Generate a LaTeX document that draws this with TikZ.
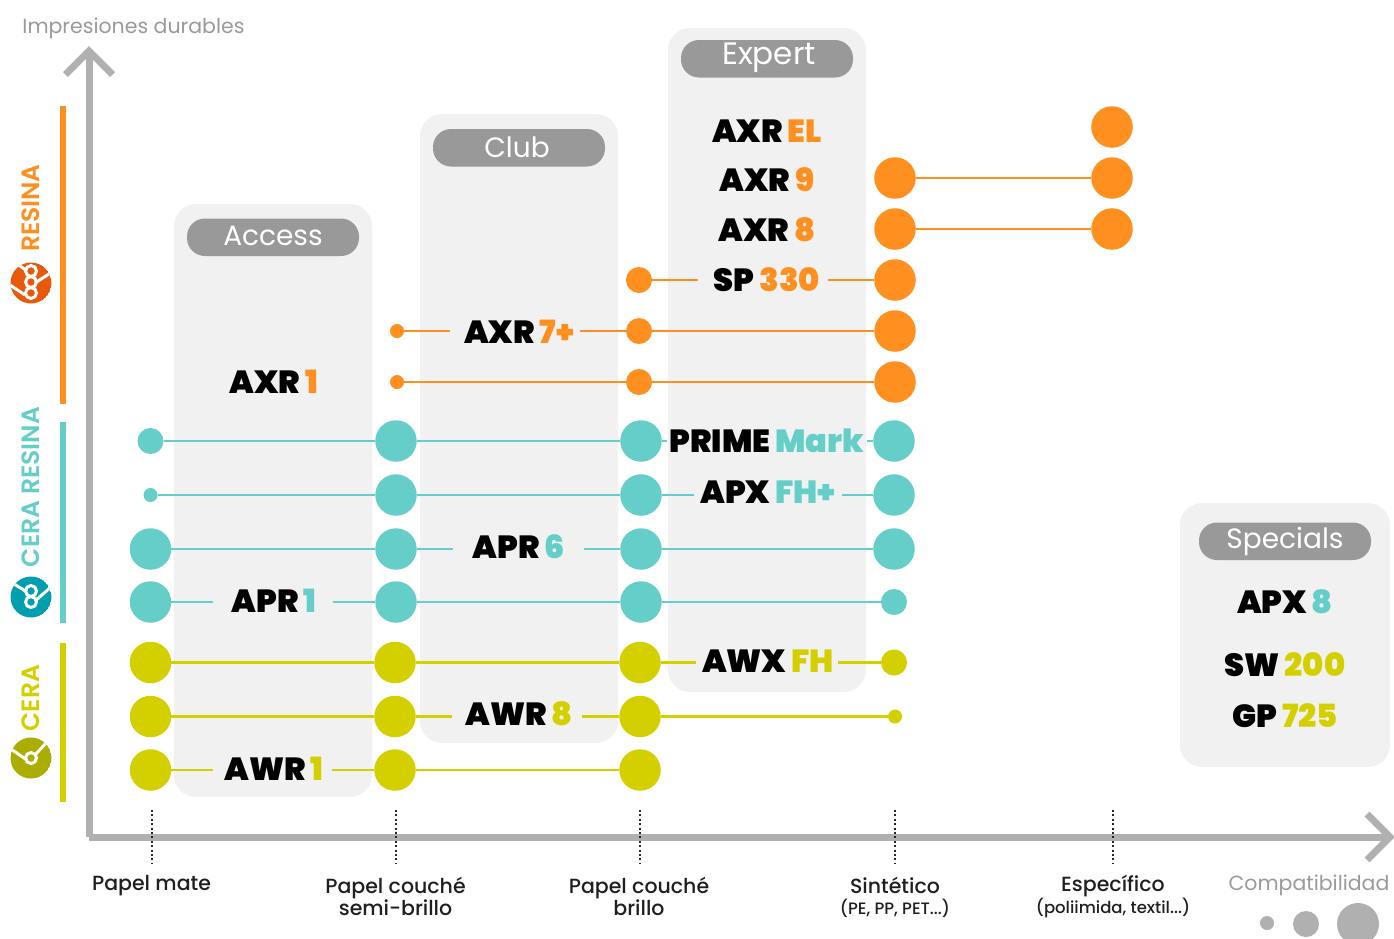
\documentclass[tikz,border=0pt]{standalone}
\usepackage{fontspec}
\setmainfont{Poppins}
\newfontfamily\hvfont{Poppins Black}
\newfontfamily\sbfont{Poppins SemiBold}
\newfontfamily\mdfont{Poppins Medium}
\definecolor{cO}{HTML}{FF8F1F}
\definecolor{cT}{HTML}{66CEC9}
\definecolor{cY}{HTML}{D4D000}
\definecolor{axg}{HTML}{B0B0B0}
\definecolor{pan}{HTML}{F1F1F1}
\definecolor{pil}{HTML}{999999}
\definecolor{txg}{HTML}{9A9A9A}
\definecolor{lO}{HTML}{E8590C}
\definecolor{lT}{HTML}{009FB0}
\definecolor{lY}{HTML}{ABAD00}
\tikzset{
 x=1pt,y=-1pt,
 panel/.style={fill=pan,rounded corners=22pt,draw=none},
 pillbox/.style={fill=pil,rounded corners=18pt,draw=none},
 pilltxt/.style={text=white,font=\fontsize{28}{28}\selectfont,inner sep=0pt},
 dotbig/.style={circle,minimum size=41.5pt,inner sep=0pt,draw=none},
 dotmid/.style={circle,minimum size=26pt,inner sep=0pt,draw=none},
 dotsml/.style={circle,minimum size=14pt,inner sep=0pt,draw=none},
 prodlab/.style={font=\hvfont\fontsize{32}{32}\selectfont,inner sep=0pt,anchor=center},
 lnk/.style={line width=2.8pt},
 axisline/.style={draw=axg,line width=7pt},
 sidebar/.style={line width=6pt},
 ticks/.style={line width=2pt,black!85,dash pattern=on 2pt off 2.4pt},
 captxt/.style={font=\mdfont\fontsize{20.5}{21}\selectfont,inner sep=0pt,align=center,text=black!88},
 subcap/.style={font=\mdfont\fontsize{16.5}{17}\selectfont,inner sep=0pt,text=black!88},
 greytxt/.style={font=\fontsize{20.5}{23}\selectfont,inner sep=0pt,text=txg},
 sidetxt/.style={font=\sbfont\fontsize{25}{25}\selectfont,inner sep=0pt,rotate=90},
 logoln/.style={white,line width=3pt},
 ring/.style={circle,draw=white,line width=3pt,inner sep=0pt,minimum size=11pt},
}
\newcommand{\dotn}[5]{\node[#1,fill=#2] (#3) at (#4,#5) {};}
\newcommand{\lbl}[6]{\node[prodlab] (#1) at (#2,#3) {#4\hspace{5pt}\textcolor{#5}{#6}};}
\begin{document}
\begin{tikzpicture}
\useasboundingbox (0,0) rectangle (1394,938);
% panels
\fill[panel] (174,204) rectangle (372,797);
\fill[panel] (420,114) rectangle (618,743);
\fill[panel] (668,28) rectangle (866,692);
\fill[panel] (1180,503) rectangle (1390,767);
\fill[pillbox] (187,218.5) rectangle (359,256);
\fill[pillbox] (433,129) rectangle (605,166.5);
\fill[pillbox] (681,40) rectangle (853,77.5);
\fill[pillbox] (1199,522.5) rectangle (1371,560);
\node[pilltxt] (pa) at (273,236) {Access};
\node[pilltxt] (pc) at (517,147.5) {Club};
\node[pilltxt,font=\fontsize{31}{31}\selectfont] (pe) at (769,58) {Expert};
\node[pilltxt] (ps) at (1285,541) {Specials};
% axes
\coordinate (org) at (89,837);
\coordinate (ytop) at (89,51);
\coordinate (xend) at (1390,837);
\draw[axisline] (org) -- (ytop);
\draw[axisline] (org) -- (xend);
\draw[axisline,miter limit=10] (65.5,74.5) -- (ytop) -- (112.5,74.5);
\draw[axisline,miter limit=10] (1367,814) -- (xend) -- (1367,860);
% side bars
\draw[sidebar,cO] (63,106) -- (63,404);
\draw[sidebar,cT] (63,422) -- (63,623);
\draw[sidebar,cY] (63,643) -- (63,802);
\node[sidetxt,text=cO] (tr) at (31,208) {RESINA};
\node[sidetxt,text=cT] (tcr) at (31,487) {CERA RESINA};
\node[sidetxt,text=cY] (tc) at (31,698) {CERA};
% logos
\begin{scope}
\clip (31,283) circle (20.5);
\fill[lO] (31,283) circle (20.5);
\draw[logoln] (10,285) -- (25,295);
\draw[logoln] (16,263) -- (27,271);
\draw[logoln] (52,272) -- (35,283);
\node[ring] at (31,271) {};
\node[ring] at (31,282) {};
\node[ring] at (31,293) {};
\end{scope}
\begin{scope}
\clip (31,597) circle (20.5);
\fill[lT] (31,597) circle (20.5);
\draw[logoln] (14,584) -- (27,592);
\draw[logoln] (51,587) -- (35,601);
\node[ring] at (31,591) {};
\node[ring] at (31,602) {};
\end{scope}
\begin{scope}
\clip (31,758) circle (20.5);
\fill[lY] (31,758) circle (20.5);
\draw[logoln] (11,749) -- (27,760);
\draw[logoln] (46,743) -- (35,755);
\node[ring] at (31,758) {};
\end{scope}
% labels
\lbl{axrel}{767}{131}{AXR}{cO}{EL}
\lbl{axrn}{767}{180}{AXR}{cO}{9}
\lbl{axre}{767}{230}{AXR}{cO}{8}
\lbl{sp}{767}{280}{SP}{cO}{330}
\lbl{axrs}{519}{332}{AXR}{cO}{7+}
\lbl{axro}{274}{382}{AXR}{cO}{1}
\lbl{prime}{767}{441}{PRIME}{cT}{Mark}
\lbl{apxf}{768}{492}{APX}{cT}{FH+}
\lbl{aprs}{519}{547}{APR}{cT}{6}
\lbl{apro}{274}{601}{APR}{cT}{1}
\lbl{awxf}{768}{661}{AWX}{cY}{FH}
\lbl{awre}{519}{714}{AWR}{cY}{8}
\lbl{awro}{274}{769}{AWR}{cY}{1}
\lbl{apxe}{1285}{602}{APX}{cT}{8}
\lbl{sw}{1285}{665}{SW}{cY}{200}
\lbl{gp}{1285}{716}{GP}{cY}{725}
% orange dots
\dotn{dotbig}{cO}{o1e}{1112}{127}
\dotn{dotbig}{cO}{o2d}{895}{178}
\dotn{dotbig}{cO}{o2e}{1112}{178}
\dotn{dotbig}{cO}{o3d}{895}{229}
\dotn{dotbig}{cO}{o3e}{1112}{229}
\dotn{dotmid}{cO}{o4c}{639}{280}
\dotn{dotbig}{cO}{o4d}{895}{280}
\dotn{dotsml}{cO}{o5b}{397}{331}
\dotn{dotmid}{cO}{o5c}{639}{331}
\dotn{dotbig}{cO}{o5d}{895}{331}
\dotn{dotsml}{cO}{o6b}{397}{382}
\dotn{dotmid}{cO}{o6c}{639}{382}
\dotn{dotbig}{cO}{o6d}{895}{382}
% teal dots
\dotn{dotmid}{cT}{t1a}{150.5}{441}
\dotn{dotbig}{cT}{t1b}{396}{441}
\dotn{dotbig}{cT}{t1c}{641}{441}
\dotn{dotbig}{cT}{t1d}{894}{441}
\dotn{dotsml}{cT}{t2a}{150.5}{495}
\dotn{dotbig}{cT}{t2b}{396}{495}
\dotn{dotbig}{cT}{t2c}{641}{495}
\dotn{dotbig}{cT}{t2d}{894}{495}
\dotn{dotbig}{cT}{t3a}{150.5}{549}
\dotn{dotbig}{cT}{t3b}{396}{549}
\dotn{dotbig}{cT}{t3c}{641}{549}
\dotn{dotbig}{cT}{t3d}{894}{549}
\dotn{dotbig}{cT}{t4a}{150.5}{602}
\dotn{dotbig}{cT}{t4b}{396}{602}
\dotn{dotbig}{cT}{t4c}{641}{602}
\dotn{dotmid}{cT}{t4d}{894}{602}
% yellow dots
\dotn{dotbig}{cY}{y1a}{150.5}{662.5}
\dotn{dotbig}{cY}{y1b}{395}{662.5}
\dotn{dotbig}{cY}{y1c}{640}{662.5}
\dotn{dotmid}{cY}{y1d}{894}{662.5}
\dotn{dotbig}{cY}{y2a}{150.5}{716.5}
\dotn{dotbig}{cY}{y2b}{395}{716.5}
\dotn{dotbig}{cY}{y2c}{640}{716.5}
\dotn{dotsml}{cY}{y2d}{895}{716.5}
\dotn{dotbig}{cY}{y3a}{150.5}{770}
\dotn{dotbig}{cY}{y3b}{395}{770}
\dotn{dotbig}{cY}{y3c}{640}{770}
% free ends where a line stops short of its label
\coordinate (a4) at (698,280);\coordinate (b4) at (828,280);
\coordinate (a5) at (450,331);\coordinate (b5) at (580,331);
\coordinate (a7) at (667,441);\coordinate (b7) at (867,441);
\coordinate (a8) at (694,495);\coordinate (b8) at (842,495);
\coordinate (a9) at (453,549);\coordinate (b9) at (584,549);
\coordinate (a10) at (213,602);\coordinate (b10) at (333,602);
\coordinate (a11) at (696,662.5);\coordinate (b11) at (838,662.5);
\coordinate (a12) at (452,716.5);\coordinate (b12) at (582,716.5);
\coordinate (a13) at (213,770);\coordinate (b13) at (332,770);
% connectors
\draw[lnk,cO] (o2d) -- (o2e);
\draw[lnk,cO] (o3d) -- (o3e);
\draw[lnk,cO] (o4c) -- (a4);
\draw[lnk,cO] (b4) -- (o4d);
\draw[lnk,cO] (o5b) -- (a5);
\draw[lnk,cO] (b5) -- (o5c);
\draw[lnk,cO] (o5c) -- (o5d);
\draw[lnk,cO] (o6b) -- (o6c);
\draw[lnk,cO] (o6c) -- (o6d);
\draw[lnk,cT] (t1a) -- (t1b);
\draw[lnk,cT] (t1b) -- (t1c);
\draw[lnk,cT] (t1c) -- (a7);
\draw[lnk,cT] (b7) -- (t1d);
\draw[lnk,cT] (t2a) -- (t2b);
\draw[lnk,cT] (t2b) -- (t2c);
\draw[lnk,cT] (t2c) -- (a8);
\draw[lnk,cT] (b8) -- (t2d);
\draw[lnk,cT] (t3a) -- (t3b);
\draw[lnk,cT] (t3b) -- (a9);
\draw[lnk,cT] (b9) -- (t3c);
\draw[lnk,cT] (t3c) -- (t3d);
\draw[lnk,cT] (t4a) -- (a10);
\draw[lnk,cT] (b10) -- (t4b);
\draw[lnk,cT] (t4b) -- (t4c);
\draw[lnk,cT] (t4c) -- (t4d);
\draw[lnk,cY] (y1a) -- (y1b);
\draw[lnk,cY] (y1b) -- (y1c);
\draw[lnk,cY] (y1c) -- (a11);
\draw[lnk,cY] (b11) -- (y1d);
\draw[lnk,cY] (y2a) -- (y2b);
\draw[lnk,cY] (y2b) -- (a12);
\draw[lnk,cY] (b12) -- (y2c);
\draw[lnk,cY] (y2c) -- (y2d);
\draw[lnk,cY] (y3a) -- (a13);
\draw[lnk,cY] (b13) -- (y3b);
\draw[lnk,cY] (y3b) -- (y3c);
% dotted ticks
\coordinate (ta1) at (151.5,810);\coordinate (ta2) at (151.5,864);
\coordinate (tb1) at (395.5,810);\coordinate (tb2) at (395.5,864);
\coordinate (tc1) at (640,810);\coordinate (tc2) at (640,864);
\coordinate (td1) at (895,810);\coordinate (td2) at (895,864);
\coordinate (te1) at (1112.5,810);\coordinate (te2) at (1112.5,864);
\draw[ticks] (ta1) -- (ta2);
\draw[ticks] (tb1) -- (tb2);
\draw[ticks] (tc1) -- (tc2);
\draw[ticks] (td1) -- (td2);
\draw[ticks] (te1) -- (te2);
% captions
\node[captxt] (c1) at (151.5,886) {Papel mate};
\node[captxt] (c2) at (395.5,896) {Papel couché\\semi-brillo};
\node[captxt] (c3) at (639,896) {Papel couché\\brillo};
\node[captxt] (c4) at (895,885) {Sintético};
\node[subcap] (c4s) at (895,908) {(PE, PP, PET...)};
\node[captxt] (c5) at (1113,886) {Específico};
\node[subcap] (c5s) at (1113,908) {(poliimida, textil...)};
\node[greytxt] (g1) at (133.5,28) {Impresiones durables};
\node[greytxt] (g2) at (1309,885) {Compatibilidad};
% legend
\fill[axg] (1267,923) circle (7);
\fill[axg] (1306,924) circle (13);
\fill[axg] (1358,924) circle (21);
\end{tikzpicture}
\end{document}
